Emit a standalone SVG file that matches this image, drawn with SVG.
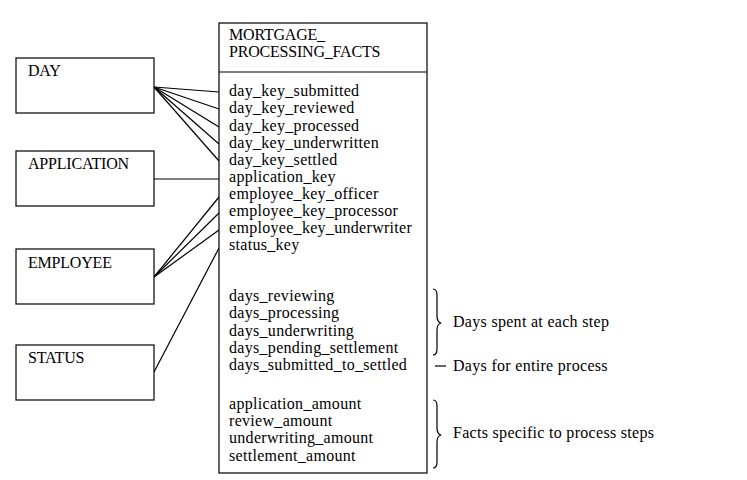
<svg xmlns="http://www.w3.org/2000/svg" width="747" height="480" viewBox="0 0 747 480">
<style>
.box{fill:#fff;stroke:#000;stroke-width:1.2}
.t{font-family:"Liberation Serif","Times New Roman",serif;font-size:16px;fill:#000;letter-spacing:0.3px}
.h{letter-spacing:-0.2px}
.c{stroke:#000;stroke-width:1.2;fill:none}
</style>
<rect width="747" height="480" fill="#fff"/>
<g id="connectors">
<line class="c" x1="154" y1="87" x2="219" y2="92"/>
<line class="c" x1="154" y1="87" x2="219" y2="109"/>
<line class="c" x1="154" y1="87" x2="219" y2="127"/>
<line class="c" x1="154" y1="87" x2="219" y2="144"/>
<line class="c" x1="154" y1="87" x2="219" y2="161"/>
<line class="c" x1="154" y1="179" x2="219" y2="179"/>
<line class="c" x1="154" y1="277" x2="219" y2="197"/>
<line class="c" x1="154" y1="277" x2="219" y2="213"/>
<line class="c" x1="154" y1="277" x2="219" y2="230"/>
<line class="c" x1="154" y1="372" x2="219" y2="248"/>
</g>
<g id="day"><rect class="box" x="16" y="58" width="138" height="55"/><text class="t h" x="28" y="76">DAY</text></g>
<g id="application"><rect class="box" x="16" y="151" width="138" height="55"/><text class="t h" x="28" y="169">APPLICATION</text></g>
<g id="employee"><rect class="box" x="16" y="249" width="138" height="55"/><text class="t h" x="28" y="268">EMPLOYEE</text></g>
<g id="status"><rect class="box" x="16" y="345" width="138" height="55"/><text class="t h" x="28" y="363">STATUS</text></g>
<g id="mortgage_processing_facts">
<rect class="box" x="219" y="23" width="208" height="450"/>
<line class="c" x1="219" y1="72" x2="427" y2="72"/>
<text class="t h" x="229" y="40">MORTGAGE_</text>
<text class="t h" x="229" y="57">PROCESSING_FACTS</text>
<text class="t" x="229" y="96">day_key_submitted</text>
<text class="t" x="229" y="113">day_key_reviewed</text>
<text class="t" x="229" y="131">day_key_processed</text>
<text class="t" x="229" y="148">day_key_underwritten</text>
<text class="t" x="229" y="165">day_key_settled</text>
<text class="t" x="229" y="182">application_key</text>
<text class="t" x="229" y="199">employee_key_officer</text>
<text class="t" x="229" y="216">employee_key_processor</text>
<text class="t" x="229" y="233">employee_key_underwriter</text>
<text class="t" x="229" y="250">status_key</text>
<text class="t" x="229" y="301">days_reviewing</text>
<text class="t" x="229" y="318">days_processing</text>
<text class="t" x="229" y="336">days_underwriting</text>
<text class="t" x="229" y="353">days_pending_settlement</text>
<text class="t" x="229" y="370">days_submitted_to_settled</text>
<text class="t" x="229" y="409">application_amount</text>
<text class="t" x="229" y="426">review_amount</text>
<text class="t" x="229" y="443">underwriting_amount</text>
<text class="t" x="229" y="461">settlement_amount</text>
</g>
<g id="annotations">
<path class="c" d="M433,289 Q437,289 437,295 L437,316 Q437,322 441,323 Q437,324 437,330 L437,349 Q437,355 433,355"/>
<line class="c" x1="435" y1="366" x2="446" y2="366"/>
<path class="c" d="M433,400 Q437,400 437,406 L437,428 Q437,434 441,435 Q437,436 437,442 L437,462 Q437,468 433,468"/>
<text class="t" x="453" y="327">Days spent at each step</text>
<text class="t" x="453" y="371">Days for entire process</text>
<text class="t" x="453" y="438">Facts specific to process steps</text>
</g>
</svg>
